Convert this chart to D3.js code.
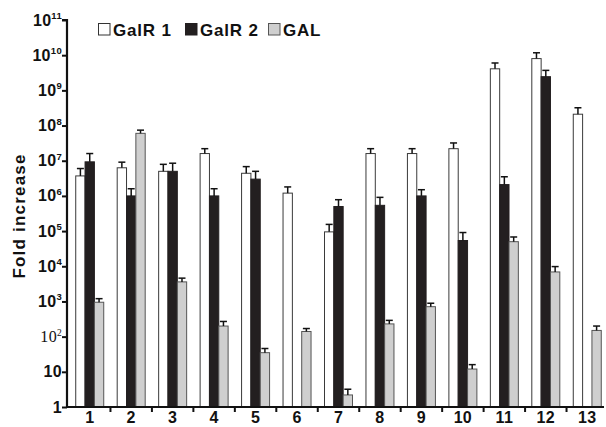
<!DOCTYPE html>
<html><head><meta charset="utf-8">
<script src="https://cdn.jsdelivr.net/npm/d3@7/dist/d3.min.js"></script>
<style>body{margin:0;background:#fff}svg{display:block;font-family:"Liberation Sans",Arial,sans-serif}</style>
</head><body><svg id="c" width="606" height="427"></svg>
<script>
const categories = ["1","2","3","4","5","6","7","8","9","10","11","12","13"];
const seriesNames = ["GalR 1","GalR 2","GAL"];
const galr1    = [3.7e6, 6.3e6, 5.0e6, 1.6e7, 4.4e6, 1.2e6, 9.5e4, 1.6e7, 1.6e7, 2.2e7, 4.1e9, 8.0e9, 2.1e8];
const galr1Err = [6.0e6, 9.1e6, 7.9e6, 2.2e7, 6.8e6, 1.8e6, 1.55e5, 2.2e7, 2.2e7, 3.2e7, 6.0e9, 1.17e10, 3.2e8];
const galr2    = [9.3e6, 1.0e6, 5.0e6, 1.0e6, 3.0e6, null, 5.0e5, 5.4e5, 1.0e6, 5.4e4, 2.1e6, 2.45e9, null];
const galr2Err = [1.6e7, 1.6e6, 8.5e6, 1.6e6, 5.0e6, null, 7.8e5, 9.1e5, 1.5e6, 9.1e4, 3.5e6, 3.7e9, null];
const gal      = [9.5e2, 6.0e7, 3.6e3, 2.0e2, 35, 1.4e2, 2.2, 2.3e2, 7.1e2, 12, 5.0e4, 6.9e3, 1.5e2];
const galErr   = [1.2e3, 7.4e7, 4.6e3, 2.7e2, 46, 1.7e2, 3.2, 2.9e2, 8.9e2, 16, 6.8e4, 9.8e3, 2.0e2];
const yTickExps = [0,1,2,3,4,5,6,7,8,9,10,11];

const fills = ["#ffffff","#231f20","#cfcfcf"];
const strokes = ["#3a3a3a","#231f20","#555555"];
const vals = [galr1, galr2, gal];
const errs = [galr1Err, galr2Err, galErr];

const svg = d3.select("#c");
const y = d3.scaleLog().domain([1,1e11]).range([407,20]);
const x = d3.scaleBand().domain(categories).range([69,608]);
const xs = d3.scaleBand().domain(seriesNames).range([0,28]);
const off = (x.bandwidth()-28)/2;

// bars
seriesNames.forEach((s,si)=>{
  const data = categories.map((c,i)=>({c, v: vals[si][i], e: errs[si][i]})).filter(d=>d.v!=null);
  const g = svg.append("g");
  g.selectAll("rect").data(data).join("rect")
    .attr("x", d=>x(d.c)+off+xs(s))
    .attr("y", d=>y(d.v))
    .attr("width", xs.bandwidth())
    .attr("height", d=>y(1)-y(d.v))
    .attr("fill", fills[si]).attr("stroke", strokes[si]).attr("stroke-width",1);
  const eg = g.selectAll("g.err").data(data).join("g").attr("class","err");
  eg.append("line")
    .attr("x1", d=>x(d.c)+off+xs(s)+xs.bandwidth()/2)
    .attr("x2", d=>x(d.c)+off+xs(s)+xs.bandwidth()/2)
    .attr("y1", d=>y(d.v)).attr("y2", d=>y(d.e))
    .attr("stroke","#111").attr("stroke-width",1.5);
  eg.append("line")
    .attr("x1", d=>x(d.c)+off+xs(s)+xs.bandwidth()/2-3.5)
    .attr("x2", d=>x(d.c)+off+xs(s)+xs.bandwidth()/2+3.5)
    .attr("y1", d=>y(d.e)).attr("y2", d=>y(d.e))
    .attr("stroke","#111").attr("stroke-width",1.5);
});

// y axis
const ya = svg.append("g").attr("transform","translate(67,0)")
  .call(d3.axisLeft(y).tickValues(yTickExps.map(e=>Math.pow(10,e))).tickSize(5).tickFormat(""));
ya.select(".domain").attr("stroke","#111").attr("stroke-width",2.2).attr("d","M-5,"+y(1e11)+"H0V"+y(1));
ya.selectAll(".tick line").attr("stroke","#111").attr("stroke-width",2);
yTickExps.forEach(e=>{
  const t = svg.append("text").attr("x",62).attr("y",y(Math.pow(10,e))+5.5)
    .attr("text-anchor","end").attr("font-weight","bold").attr("font-size",16)
    .attr("letter-spacing",0.3).attr("fill","#111");
  if(e===0){ t.text("1"); }
  else if(e===1){ t.text("10"); }
  else {
    if(e===2){ t.attr("font-family","'Liberation Serif',serif").attr("font-weight","normal"); }
    t.append("tspan").text("10");
    t.append("tspan").attr("dy",-6.5).attr("font-size",9.5).text(String(e));
  }
});

// x axis
svg.append("line").attr("x1",66).attr("x2",604).attr("y1",y(1)).attr("y2",y(1))
  .attr("stroke","#111").attr("stroke-width",2.2);
categories.slice(1).forEach(c=>{
  svg.append("line").attr("x1",x(c)).attr("x2",x(c)).attr("y1",y(1)).attr("y2",y(1)+5)
    .attr("stroke","#111").attr("stroke-width",2);
});
svg.append("g").selectAll("text").data(categories).join("text")
  .attr("x", d=>x(d)+x.bandwidth()/2).attr("y",423)
  .attr("text-anchor","middle").attr("font-weight","bold").attr("font-size",16)
  .attr("letter-spacing",0.3).attr("fill","#111")
  .text(d=>d);

// y label
svg.append("text").attr("transform","translate(25,216) rotate(-90)")
  .attr("text-anchor","middle").attr("font-weight","bold").attr("font-size",17)
  .attr("letter-spacing",1.2).attr("fill","#111")
  .text("Fold increase");

// legend
const legX = [98,185,268];
seriesNames.forEach((s,si)=>{
  svg.append("rect").attr("x",legX[si]+0.5).attr("y",23.5).attr("width",11.5).attr("height",11.5)
    .attr("fill",fills[si]).attr("stroke",si===0?"#333":strokes[si]).attr("stroke-width",1);
  svg.append("text").attr("x",legX[si]+15).attr("y",35.5).attr("font-weight","bold").attr("font-size",17)
    .attr("letter-spacing",0.8).attr("fill","#111").text(s);
});
</script></body></html>
